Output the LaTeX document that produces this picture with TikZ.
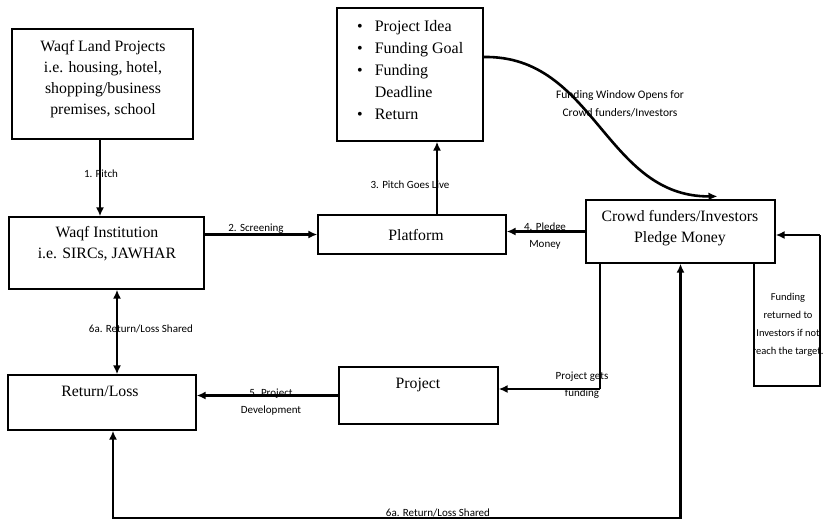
\documentclass[tikz,border=0pt]{standalone}
\usepackage{fontspec}
\setmainfont{Liberation Serif}
\newfontfamily\lblfont{Carlito}
\usetikzlibrary{arrows.meta}
\begin{document}
\begin{tikzpicture}[x=1pt,y=-1pt,
  box/.style={draw, line width=1.3pt, inner sep=0pt},
  boxtext/.style={inner sep=0pt, align=center, font=\fontsize{15.8}{21}\selectfont},
  lbl/.style={inner sep=0pt, align=center, font=\lblfont\fontsize{11}{17}\selectfont},
  thick arr/.style={line width=2.6pt, -{Latex[length=9pt,width=8pt]}},
  both arr/.style={line width=2.6pt, {Latex[length=9pt,width=8pt]}-{Latex[length=9pt,width=8pt]}},
  thin line/.style={line width=1.3pt}
]
\useasboundingbox (0,0) rectangle (832,520);

% boxes
\node[box, minimum width=181pt, minimum height=110pt] (wlp) at (102.5,84) {};
\node[boxtext] (wlpT) at (103,79) {Waqf Land Projects\\i.e. housing, hotel,\\shopping/business\\premises, school};

\node[box, minimum width=146pt, minimum height=133pt] (bul) at (410,74.5) {};
\node[inner sep=0pt, anchor=west, font=\fontsize{16}{22}\selectfont] (bulT) at (357,71) {%
  \begin{tabular}{@{}l@{\hspace{12pt}}l@{}}
  \textbullet & Project Idea\\
  \textbullet & Funding Goal\\
  \textbullet & Funding\\
              & Deadline\\
  \textbullet & Return
  \end{tabular}};

\node[box, minimum width=195pt, minimum height=72pt] (inst) at (106.5,253) {};
\node[boxtext] (instT) at (107,244) {Waqf Institution\\i.e. SIRCs, JAWHAR};

\node[box, minimum width=188pt, minimum height=39pt] (plat) at (412,234.5) {};
\node[boxtext] (platT) at (416,235) {Platform};

\node[box, minimum width=189pt, minimum height=63pt] (crowd) at (680.5,231.5) {};
\node[boxtext] (crowdT) at (680,228.5) {Crowd funders/Investors\\Pledge Money};

\node[box, minimum width=159pt, minimum height=57pt] (proj) at (418.5,395.5) {};
\node[boxtext] (projT) at (418,385) {Project};

\node[box, minimum width=188pt, minimum height=55pt] (rl) at (102,402.5) {};
\node[boxtext] (rlT) at (100,391) {Return/Loss};

% connectors
\draw[thick arr] ([xshift=-2.5pt]wlp.south) -- ([xshift=-2.5pt]wlp.south |- inst.north);
\node[lbl] (l1) at (101,174) {1. Pitch};

\draw[thick arr] (inst.east |- plat.west) -- (plat.west);
\node[lbl] (l2) at (256,229) {2. Screening};

\draw[thick arr] ([xshift=25pt]plat.north) -- ([xshift=25pt]plat.north |- bul.south);
\node[lbl] (l3) at (410,185) {3. Pitch Goes Live};

\draw[thick arr] (crowd.west) -- (crowd.west -| plat.east);
\node[lbl] (l4) at (545,236) {4. Pledge\\Money};

\draw[thick arr] ([yshift=17.5pt]bul.east) .. controls (595,55) and (605,197) .. ([xshift=37pt,yshift=3pt]crowd.north);
\node[lbl, font=\lblfont\fontsize{11.5}{18}\selectfont] (lfw) at (620,104) {Funding Window Opens for\\Crowd funders/Investors};

\coordinate (pf) at (600,389);
\draw[thin line] (crowd.south -| pf) -- (pf);
\draw[thick arr] (pf) -- (pf -| proj.east);
\node[lbl] (lpf) at (582,385) {Project gets\\funding};

\draw[thick arr] (proj.west) -- (proj.west -| rl.east);
\node[lbl] (l5) at (271,402) {5. Project\\Development};

\draw[both arr] ([xshift=10.5pt]inst.south) -- ([xshift=10.5pt]inst.south |- rl.north);
\node[lbl] (l6a) at (141,329) {6a. Return/Loss Shared};

\draw[both arr] ([xshift=11pt]rl.south) -- ([xshift=11pt]rl.south |- 0,518) -| (crowd.south);
\node[lbl] (l6b) at (438,513) {6a. Return/Loss Shared};

\coordinate (rr1) at (754,386);
\coordinate (rr2) at (820,386);
\coordinate (rr3) at (820,235);
\draw[thin line] (crowd.south -| rr1) -- (rr1) -- (rr2) -- (rr3);
\draw[thick arr] (rr3) -- (rr3 -| crowd.east);
\node[lbl, font=\lblfont\fontsize{10.5}{18}\selectfont] (lret) at (788,325) {Funding\\returned to\\Investors if not\\reach the target.};
\end{tikzpicture}
\end{document}
